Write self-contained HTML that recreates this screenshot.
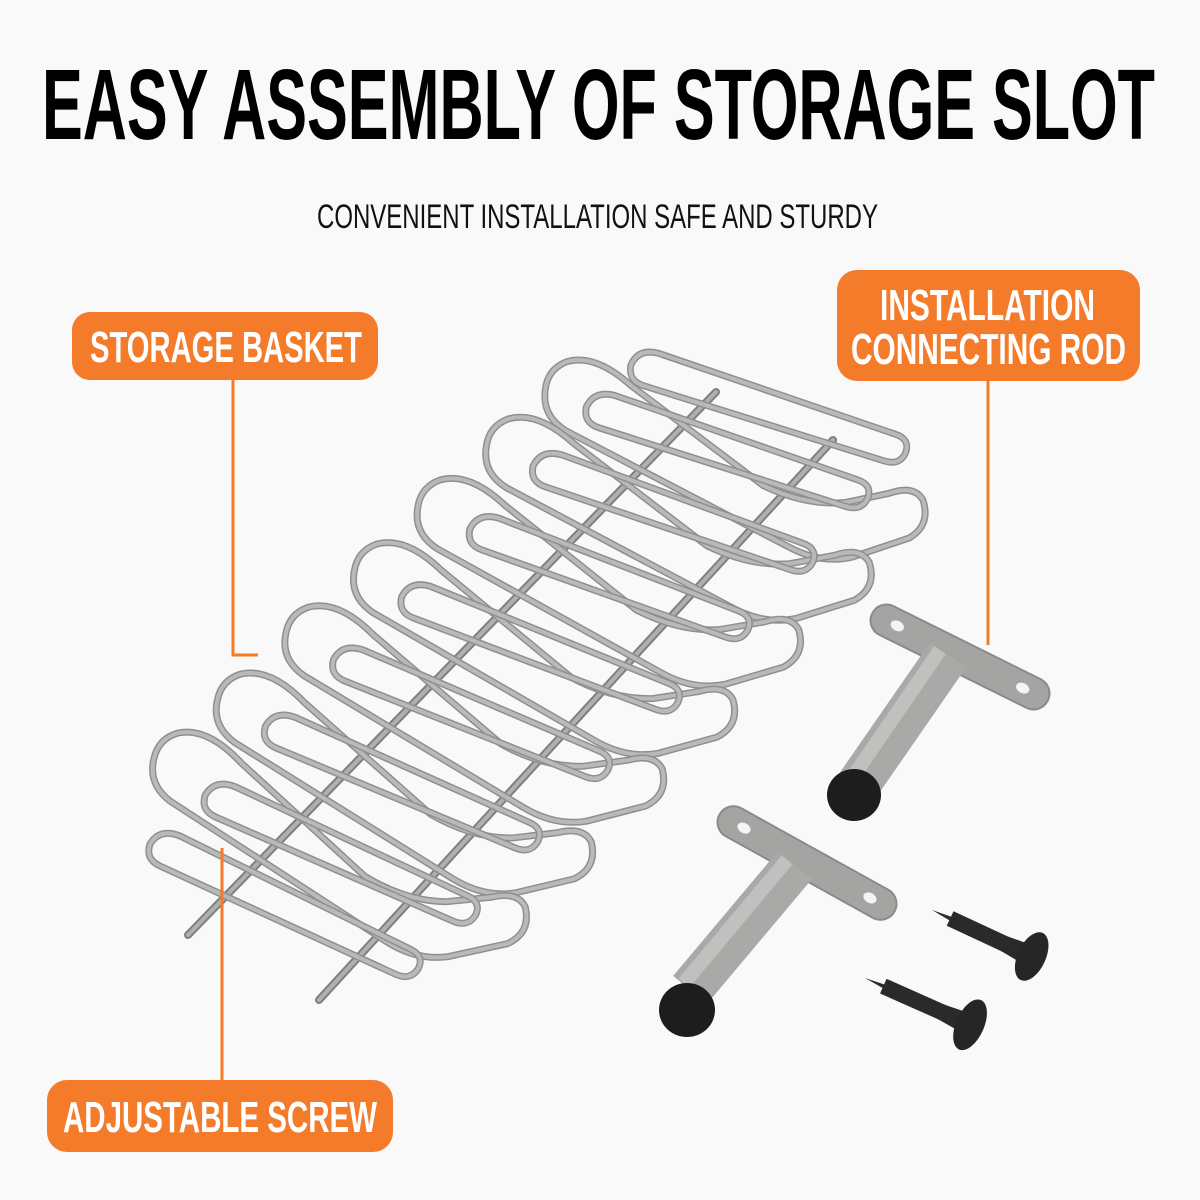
<!DOCTYPE html>
<html><head><meta charset="utf-8"><style>
html,body{margin:0;padding:0;background:#f9f9f9}
svg{display:block}
</style></head><body>
<svg width="1200" height="1200" viewBox="0 0 1200 1200" xmlns="http://www.w3.org/2000/svg">
<defs>
<g id="big">
<path d="M -25,25 Q -32,50 -10,68 L 200,215 Q 230,236 262,233 L 322,222 Q 346,212 341,186 Q 334,170 308,175 L 262,178 Q 222,176 182,150 L 62,32 Q 30,-5 0,0 Q -20,5 -25,25 Z" fill="none" stroke="#8f908e" stroke-width="7"/>
<path d="M -25,25 Q -32,50 -10,68 L 200,215 Q 230,236 262,233 L 322,222 Q 346,212 341,186 Q 334,170 308,175 L 262,178 Q 222,176 182,150 L 62,32 Q 30,-5 0,0 Q -20,5 -25,25 Z" fill="none" stroke="#b9bab8" stroke-width="4"/>
</g>
<g id="small">
<path d="M -10,10 Q -15,25 0,32 L 235,140 Q 250,147 258,135 Q 265,122 250,115 L 20,2 Q 0,-6 -10,10 Z" fill="none" stroke="#8f908e" stroke-width="7"/>
<path d="M -10,10 Q -15,25 0,32 L 235,140 Q 250,147 258,135 Q 265,122 250,115 L 20,2 Q 0,-6 -10,10 Z" fill="none" stroke="#b9bab8" stroke-width="4"/>
</g>
</defs>
<rect width="1200" height="1200" fill="#f9f9f9"/>

<text x="42" y="139" font-family="Liberation Sans Narrow, Liberation Sans, sans-serif" font-weight="bold" font-size="100" textLength="1113" lengthAdjust="spacingAndGlyphs" fill="#000">EASY ASSEMBLY OF STORAGE SLOT</text>
<text x="317" y="228" font-family="Liberation Sans Narrow, Liberation Sans, sans-serif" font-size="34" textLength="561" lengthAdjust="spacingAndGlyphs" fill="#111">CONVENIENT INSTALLATION SAFE AND STURDY</text>

<line x1="188" y1="935" x2="716" y2="392" stroke="#7f807e" stroke-width="8" stroke-linecap="round"/>
<line x1="188" y1="935" x2="716" y2="392" stroke="#b0b1af" stroke-width="4" stroke-linecap="round"/>
<line x1="319" y1="1000" x2="833" y2="440" stroke="#7f807e" stroke-width="8" stroke-linecap="round"/>
<line x1="319" y1="1000" x2="833" y2="440" stroke="#b0b1af" stroke-width="4" stroke-linecap="round"/>

<use href="#big" transform="translate(566,362) rotate(-8) scale(0.98,1)"/>
<use href="#big" transform="translate(508,419) rotate(-7)"/>
<use href="#big" transform="translate(440,480) rotate(-6)"/>
<use href="#big" transform="translate(377,544) rotate(-5)"/>
<use href="#big" transform="translate(309,607) rotate(-4)"/>
<use href="#big" transform="translate(241,674) rotate(-3)"/>
<use href="#big" transform="translate(178,733) rotate(-2)"/>
<use href="#small" transform="translate(639,354) rotate(-8) scale(0.97,1)"/>
<use href="#small" transform="translate(595,396) rotate(-7)"/>
<use href="#small" transform="translate(542,455) rotate(-6)"/>
<use href="#small" transform="translate(479,518) rotate(-5)"/>
<use href="#small" transform="translate(411,586) rotate(-4)"/>
<use href="#small" transform="translate(343,649) rotate(-3)"/>
<use href="#small" transform="translate(275,716) rotate(-2)"/>
<use href="#small" transform="translate(215,785) rotate(-1)"/>
<use href="#small" transform="translate(160,834)"/>

<g transform="translate(960,657) rotate(26.4)">
<rect x="-98" y="-16" width="196" height="32" rx="16" fill="#a4a5a3" stroke="#8a8b89" stroke-width="2"/>
<ellipse cx="-70" cy="0" rx="7" ry="5" fill="#f4f4f4"/>
<ellipse cx="70" cy="0" rx="7" ry="5" fill="#f4f4f4"/>
</g>
<line x1="948" y1="655" x2="858" y2="785" stroke="#a9aaa8" stroke-width="44"/>
<line x1="940" y1="650" x2="852" y2="778" stroke="#c0c1bf" stroke-width="14"/>
<ellipse cx="854" cy="795" rx="27" ry="26" fill="#1d1d1d"/>
<g transform="translate(807,863) rotate(29)">
<rect x="-100" y="-16" width="200" height="32" rx="16" fill="#a4a5a3" stroke="#8a8b89" stroke-width="2"/>
<ellipse cx="-72" cy="0" rx="7" ry="5" fill="#f4f4f4"/>
<ellipse cx="72" cy="0" rx="7" ry="5" fill="#f4f4f4"/>
</g>
<line x1="795" y1="865" x2="690" y2="990" stroke="#a9aaa8" stroke-width="44"/>
<line x1="787" y1="860" x2="684" y2="983" stroke="#c0c1bf" stroke-width="14"/>
<ellipse cx="687" cy="1010" rx="28" ry="27" fill="#1d1d1d"/>

<g transform="translate(932,910) rotate(25)">
<polygon points="0,0 100,-10 100,10" fill="#2a2a2a"/>
<rect x="20" y="-8" width="85" height="16" fill="#2a2a2a"/>
<ellipse cx="110" cy="0" rx="14" ry="26" fill="#262626"/>
</g>
<g transform="translate(865,978) rotate(24)">
<polygon points="0,0 105,-10 105,10" fill="#2a2a2a"/>
<rect x="20" y="-8" width="90" height="16" fill="#2a2a2a"/>
<ellipse cx="115" cy="0" rx="14" ry="27" fill="#262626"/>
</g>

<polyline points="233,380 233,655 258,655" fill="none" stroke="#f47a25" stroke-width="3"/>
<line x1="988" y1="381" x2="988" y2="645" stroke="#f47a25" stroke-width="3"/>
<line x1="222" y1="848" x2="222" y2="1081" stroke="#f47a25" stroke-width="3"/>

<rect x="72" y="312" width="306" height="68" rx="18" fill="#f47b2a"/>
<text x="90" y="362" font-family="Liberation Sans Narrow, Liberation Sans, sans-serif" font-weight="bold" font-size="44" textLength="272" lengthAdjust="spacingAndGlyphs" fill="#fff">STORAGE BASKET</text>
<rect x="837" y="270" width="303" height="111" rx="20" fill="#f47b2a"/>
<text x="880" y="320" font-family="Liberation Sans Narrow, Liberation Sans, sans-serif" font-weight="bold" font-size="44" textLength="215" lengthAdjust="spacingAndGlyphs" fill="#fff">INSTALLATION</text>
<text x="851" y="364" font-family="Liberation Sans Narrow, Liberation Sans, sans-serif" font-weight="bold" font-size="44" textLength="275" lengthAdjust="spacingAndGlyphs" fill="#fff">CONNECTING ROD</text>
<rect x="47" y="1080" width="346" height="72" rx="20" fill="#f47b2a"/>
<text x="63" y="1132" font-family="Liberation Sans Narrow, Liberation Sans, sans-serif" font-weight="bold" font-size="44" textLength="314" lengthAdjust="spacingAndGlyphs" fill="#fff">ADJUSTABLE SCREW</text>
</svg>
</body></html>
